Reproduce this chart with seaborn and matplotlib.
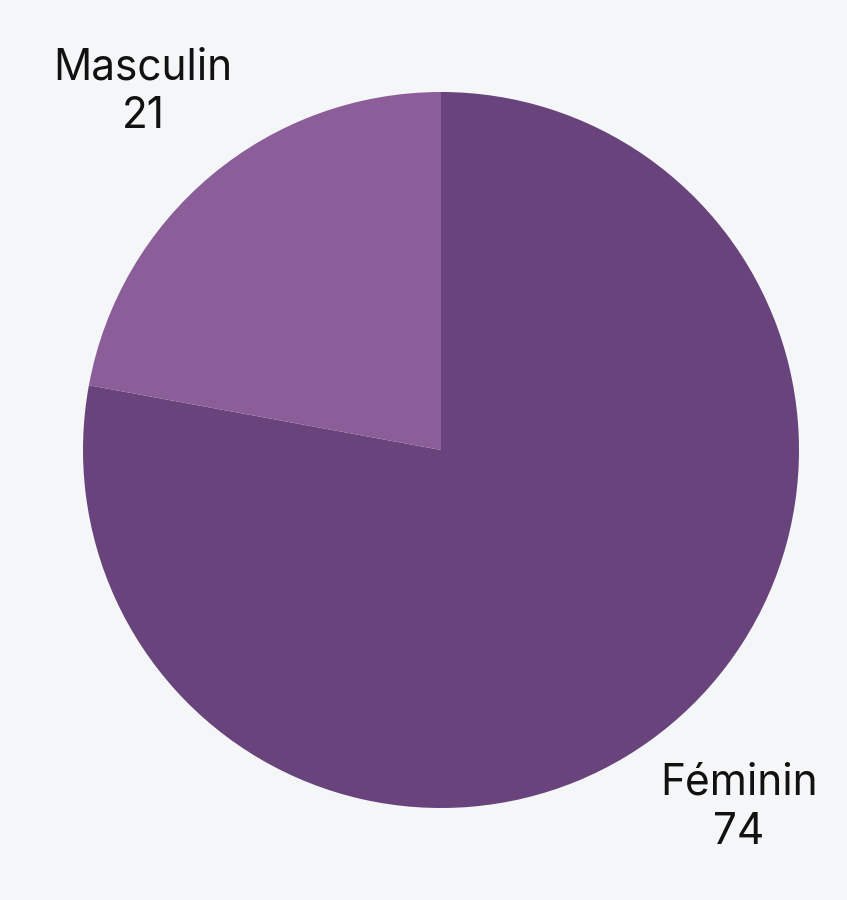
import matplotlib
matplotlib.use("Agg")
import matplotlib.pyplot as plt
import seaborn as sns

categories = ["Féminin", "Masculin"]
values = [74, 21]
colors = ["#69437c", "#8b5e99"]

sns.set_theme(style="white")
plt.rcParams['font.family'] = ['Inter', 'DejaVu Sans']

bg = "#f5f6f8"
fig = plt.figure(figsize=(8.47, 9.0), dpi=100, facecolor=bg)
cx, cy, r = 441, 450, 358
W, H = 847, 900
ax = fig.add_axes([(cx - r) / W, (H - cy - r) / H, 2 * r / W, 2 * r / H])
ax.set_facecolor(bg)

labels = [f"{c}\n{v}" for c, v in zip(categories, values)]
wedges, texts = ax.pie(values, labels=labels, colors=colors, startangle=90,
                       counterclock=False, labeldistance=1.3, radius=1,
                       wedgeprops=dict(linewidth=0),
                       textprops=dict(fontsize=30.5, color="#111111"))
for t in texts:
    t.set_ha("center")
    t.set_va("center")
    t.set_multialignment("center")
    t.set_linespacing(1.25)
ax.set_xlim(-1, 1)
ax.set_ylim(-1, 1)
ax.set_aspect("equal")
ax.axis("off")
fig.savefig("out.png", dpi=100, facecolor=bg)
